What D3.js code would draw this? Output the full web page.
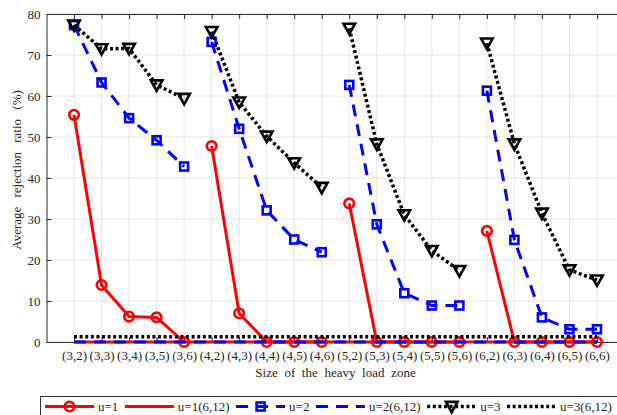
<!DOCTYPE html>
<html>
<head>
<meta charset="utf-8">
<script src="https://cdn.jsdelivr.net/npm/d3@7"></script>
<style>
  body { margin: 0; background: #fff; }
  svg { display: block; font-family: "Liberation Serif", "Times New Roman", serif; }
  svg text { font-family: "Liberation Serif", "Times New Roman", serif; }
</style>
</head>
<body>
<svg id="chart" width="617" height="415"></svg>
<script>
// tick labels on x, one per heavy load zone size
const categories = ["(3,2)","(3,3)","(3,4)","(3,5)","(3,6)",
                    "(4,2)","(4,3)","(4,4)","(4,5)","(4,6)",
                    "(5,2)","(5,3)","(5,4)","(5,5)","(5,6)",
                    "(6,2)","(6,3)","(6,4)","(6,5)","(6,6)"];
const yTicks = [0, 10, 20, 30, 40, 50, 60, 70, 80];

// values in %
const u1 =    [55.4, 13.9, 6.2, 6.0, 0,   47.8, 7.0, 0, 0, 0,   33.8, 0, 0, 0, 0,   27.1, 0, 0, 0, 0];
const u1_612 = [0, 0, 0, 0, 0,  0, 0, 0, 0, 0,  0, 0, 0, 0, 0,  0, 0, 0, 0, 0];
const u2 =    [77.3, 63.3, 54.6, 49.2, 42.8,  73.2, 52.0, 32.1, 25.0, 21.9,  62.7, 28.7, 11.9, 8.9, 8.9,  61.3, 24.9, 6.0, 3.1, 3.1];
const u2_612 = [0, 0, 0, 0, 0,  0, 0, 0, 0, 0,  0, 0, 0, 0, 0,  0, 0, 0, 0, 0];
const u3 =    [77.3, 71.5, 71.6, 62.7, 59.4,  75.7, 58.5, 50.2, 43.7, 37.7,  76.5, 48.3, 31.0, 22.3, 17.4,  72.9, 48.3, 31.4, 17.6, 15.1];
const u3_612 = [1.3, 1.3, 1.3, 1.3, 1.3,  1.3, 1.3, 1.3, 1.3, 1.3,  1.3, 1.3, 1.3, 1.3, 1.3,  1.3, 1.3, 1.3, 1.3, 1.3];
const groupSize = 5; // each zone row (3,x) (4,x)... is its own line segment

const axisColor = "#262626";
const svg = d3.select("#chart");
const margin = {left: 46.5, top: 14, bottom: 73};
const plotRight = 624.5; // right side of the box falls outside the window
const innerH = 415 - margin.top - margin.bottom;

const x = d3.scaleLinear().domain([0, categories.length + 1]).range([margin.left, plotRight]);
const y = d3.scaleLinear().domain([0, 80]).range([margin.top + innerH, margin.top]);

// grid
const grid = svg.append("g").attr("stroke", "#dedede").attr("stroke-width", 0.8);
grid.selectAll(".vg").data(categories).join("line")
  .attr("x1", (d, i) => x(i + 1)).attr("x2", (d, i) => x(i + 1))
  .attr("y1", y(0)).attr("y2", y(80));
grid.selectAll(".hg").data(yTicks).join("line")
  .attr("x1", margin.left).attr("x2", plotRight)
  .attr("y1", d => y(d)).attr("y2", d => y(d));

// axes
const xAxis = d3.axisBottom(x).tickValues(d3.range(1, categories.length + 1))
  .tickFormat(i => categories[i - 1]).tickSizeInner(-5).tickSizeOuter(0).tickPadding(9);
const gx = svg.append("g").attr("transform", `translate(0,${y(0)})`).call(xAxis);
const xTop = d3.axisTop(x).tickValues(d3.range(1, categories.length + 1))
  .tickFormat("").tickSizeInner(-5).tickSizeOuter(0);
const gxt = svg.append("g").attr("transform", `translate(0,${y(80)})`).call(xTop);
const yAxis = d3.axisLeft(y).tickValues(yTicks).tickSizeInner(-5).tickSizeOuter(0).tickPadding(6);
const gy = svg.append("g").attr("transform", `translate(${margin.left},0)`).call(yAxis);
[gx, gxt, gy].forEach(g => {
  g.attr("font-family", null);
  g.selectAll("path, line").attr("stroke", axisColor).attr("stroke-width", 1);
  g.selectAll("text").attr("fill", axisColor).style("font-size", "13px");
});

svg.append("text").attr("x", (margin.left + plotRight) / 2).attr("y", 377)
  .attr("text-anchor", "middle").attr("fill", axisColor).style("font-size", "13px")
  .style("word-spacing", "3.4px").text("Size of the heavy load zone");
svg.append("text").attr("transform", `translate(21,170) rotate(-90)`)
  .attr("text-anchor", "middle").attr("fill", axisColor).style("font-size", "13px")
  .style("word-spacing", "6px").text("Average rejection ratio (%)");

// series
const series = [
  {name: "u=1",       values: u1,     color: "#ff0000", dash: null,      width: 3,   marker: "circle", split: true},
  {name: "u=1(6,12)", values: u1_612, color: "#ff0000", dash: null,      width: 3,   marker: null,     split: false},
  {name: "u=2",       values: u2,     color: "#0000ff", dash: "12,8",    width: 3,   marker: "square", split: true},
  {name: "u=2(6,12)", values: u2_612, color: "#0000ff", dash: "12,8",    width: 3,   marker: null,     split: false},
  {name: "u=3",       values: u3,     color: "#000000", dash: "3,2.6",   width: 3.5, marker: "tri",    split: true},
  {name: "u=3(6,12)", values: u3_612, color: "#000000", dash: "3,2.6",   width: 3.5, marker: null,     split: false}
];

const line = d3.line().x(d => x(d.i + 1)).y(d => y(d.v));

function drawMarker(g, type, color) {
  if (type === "circle") {
    g.append("circle").attr("r", 4.8).attr("fill", "none").attr("stroke", color).attr("stroke-width", 2.6);
  } else if (type === "square") {
    g.append("rect").attr("x", -4).attr("y", -4).attr("width", 8).attr("height", 8)
      .attr("fill", "none").attr("stroke", color).attr("stroke-width", 2.6);
  } else if (type === "tri") {
    g.append("path").attr("d", "M-5.8,-4.6L5.8,-4.6L0,5.8Z")
      .attr("fill", "none").attr("stroke", color).attr("stroke-width", 2.6).attr("stroke-linejoin", "miter");
  }
}

const plot = svg.append("g");
series.forEach(s => {
  const pts = s.values.map((v, i) => ({i, v}));
  const parts = s.split ? d3.range(0, pts.length, groupSize).map(k => pts.slice(k, k + groupSize)) : [pts];
  const g = plot.append("g");
  parts.forEach(p => {
    g.append("path").attr("d", line(p)).attr("fill", "none")
      .attr("stroke", s.color).attr("stroke-width", s.width)
      .attr("stroke-dasharray", s.dash);
  });
  if (s.marker) {
    pts.forEach(p => {
      const m = g.append("g").attr("transform", `translate(${x(p.i + 1)},${y(p.v)})`);
      drawMarker(m, s.marker, s.color);
    });
  }
});

// legend, one row under the chart
const legend = svg.append("g");
legend.append("rect").attr("x", 40.5).attr("y", 396.5).attr("width", 620).attr("height", 40)
  .attr("fill", "#fff").attr("stroke", "#333").attr("stroke-width", 1);
let cx = 45;
const ly = 406.5;
series.forEach(s => {
  const item = legend.append("g");
  item.append("line").attr("x1", cx).attr("x2", cx + 49).attr("y1", ly).attr("y2", ly)
    .attr("stroke", s.color).attr("stroke-width", s.width).attr("stroke-dasharray", s.dash);
  if (s.marker) {
    const m = item.append("g").attr("transform", `translate(${cx + 24.5},${ly})`);
    drawMarker(m, s.marker, s.color);
  }
  const t = item.append("text").attr("x", cx + 53).attr("y", ly + 4.5)
    .attr("fill", axisColor).style("font-size", "13px").text(s.name);
  cx = cx + 53 + t.node().getComputedTextLength() + 6.5;
});
</script>
</body>
</html>
